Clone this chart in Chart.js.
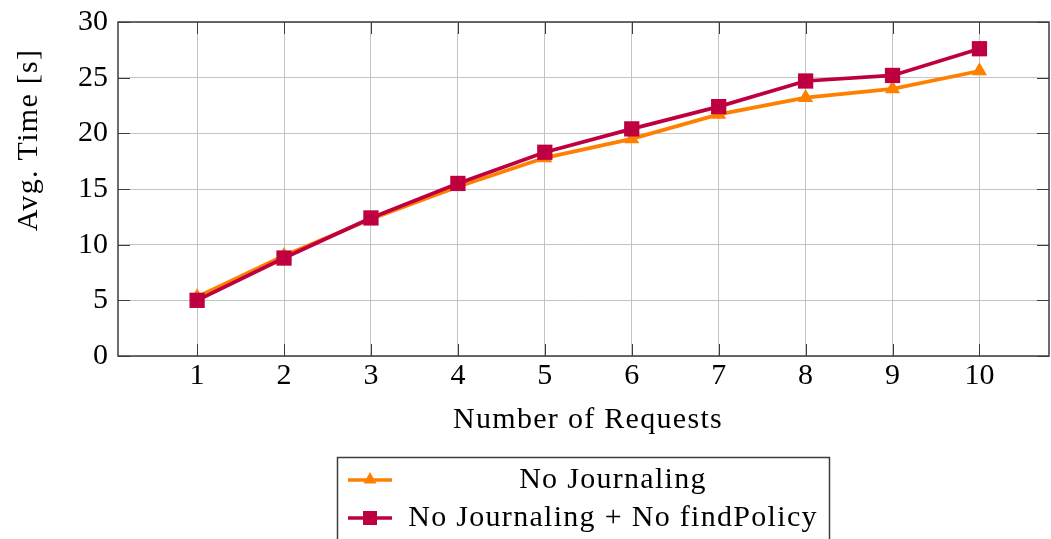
<!DOCTYPE html>
<html>
<head>
<meta charset="utf-8">
<script src="https://cdn.jsdelivr.net/npm/chart.js@4/dist/chart.umd.min.js"></script>
<style>
  html, body { margin: 0; padding: 0; background: #fff; }
  #wrap { width: 1051px; height: 539px; position: relative; }
</style>
</head>
<body>
<div id="wrap"><canvas id="c" width="1051" height="539"></canvas></div>
<script>
// Number of requests on the x axis
const requests = [1, 2, 3, 4, 5, 6, 7, 8, 9, 10];
// Average time in seconds per configuration
const noJournaling = [5.3, 9.0, 12.3, 15.2, 17.8, 19.5, 21.7, 23.2, 24.0, 25.6];
const noJournalingNoFindPolicy = [5.0, 8.8, 12.4, 15.5, 18.3, 20.4, 22.4, 24.7, 25.2, 27.6];
const yTicks = [0, 5, 10, 15, 20, 25, 30];

const seriesNames = ['No Journaling', 'No Journaling + No findPolicy'];
const xTitle = 'Number of Requests';
const yTitle = 'Avg. Time [s]';

const ORANGE = '#ff8000';
const PURPLE = '#bf0040';
const AXIS = '#3c3c3c';
const GRID = '#c4c4c4';
const FONT = '"Liberation Serif", "Times New Roman", serif';

// Box outline, inward tick marks on all four sides, axis titles and legend
const decor = {
  id: 'decor',
  afterDraw(chart) {
    const { ctx, chartArea: a, scales } = chart;
    ctx.save();
    ctx.strokeStyle = AXIS;
    ctx.lineWidth = 1;
    const L = 12;
    ctx.beginPath();
    requests.forEach(v => {
      const x = Math.round(scales.x.getPixelForValue(v)) + 0.5;
      ctx.moveTo(x, a.bottom); ctx.lineTo(x, a.bottom - L);
      ctx.moveTo(x, a.top); ctx.lineTo(x, a.top + L);
    });
    yTicks.forEach(v => {
      const y = Math.round(scales.y.getPixelForValue(v)) + 0.5;
      ctx.moveTo(a.left, y); ctx.lineTo(a.left + L, y);
      ctx.moveTo(a.right, y); ctx.lineTo(a.right - L, y);
    });
    ctx.stroke();
    ctx.lineWidth = 1.5;
    ctx.strokeRect(a.left, a.top, a.right - a.left, a.bottom - a.top);

    // axis titles
    ctx.fillStyle = '#000';
    ctx.font = '30px ' + FONT;
    ctx.letterSpacing = '1.3px';
    ctx.textAlign = 'center';
    ctx.textBaseline = 'middle';
    ctx.fillText(xTitle, 588, 420);
    ctx.save();
    ctx.translate(29, 140);
    ctx.rotate(-Math.PI / 2);
    ctx.fillText(yTitle, 0, 0);
    ctx.restore();

    // legend
    ctx.lineWidth = 1.5;
    ctx.strokeStyle = AXIS;
    ctx.strokeRect(337.5, 457.5, 492, 120);
    const rows = [480, 518];
    const colors = [ORANGE, PURPLE];
    rows.forEach((y, i) => {
      ctx.strokeStyle = colors[i];
      ctx.fillStyle = colors[i];
      ctx.lineWidth = 3.6;
      ctx.beginPath();
      ctx.moveTo(348, y); ctx.lineTo(392, y);
      ctx.stroke();
      ctx.beginPath();
      if (i === 0) {
        ctx.moveTo(370, y - 8); ctx.lineTo(376.5, y + 3.5); ctx.lineTo(363.5, y + 3.5);
        ctx.closePath();
      } else {
        ctx.rect(363, y - 7, 14, 14);
      }
      ctx.fill();
      ctx.fillStyle = '#000';
      ctx.fillText(seriesNames[i], 613, y);
    });
    ctx.restore();
  }
};

new Chart(document.getElementById('c'), {
  type: 'line',
  data: {
    datasets: [
      {
        label: seriesNames[1],
        data: requests.map((x, i) => ({ x, y: noJournalingNoFindPolicy[i] })),
        borderColor: PURPLE,
        backgroundColor: PURPLE,
        borderWidth: 3.7,
        pointStyle: 'rect',
        pointRadius: 10.8,
        pointHoverRadius: 10.8,
        pointBorderWidth: 0,
        tension: 0,
        clip: false,
        order: 0
      },
      {
        label: seriesNames[0],
        data: requests.map((x, i) => ({ x, y: noJournaling[i] })),
        borderColor: ORANGE,
        backgroundColor: ORANGE,
        borderWidth: 3.7,
        pointStyle: 'triangle',
        pointRadius: 8.7,
        pointHoverRadius: 8.7,
        pointBorderWidth: 0,
        tension: 0,
        clip: false,
        order: 1
      }
    ]
  },
  options: {
    responsive: false,
    animation: false,
    events: [],
    layout: { autoPadding: false, padding: { top: 22, right: 2, left: 0, bottom: 0 } },
    plugins: { legend: { display: false }, tooltip: { enabled: false } },
    scales: {
      x: {
        type: 'linear',
        min: 0.09,
        max: 10.8,
        afterBuildTicks: s => { s.ticks = requests.map(v => ({ value: v })); },
        afterFit: s => { s.height = 183; s.paddingLeft = 0; s.paddingRight = 0; },
        grid: { color: GRID, lineWidth: 1, drawTicks: false },
        border: { display: false },
        ticks: { color: '#000', font: { family: FONT, size: 30, lineHeight: 1 }, padding: 5, maxRotation: 0, autoSkip: false }
      },
      y: {
        min: 0,
        max: 30,
        afterBuildTicks: s => { s.ticks = yTicks.map(v => ({ value: v })); },
        afterFit: s => { s.width = 118; s.paddingTop = 0; s.paddingBottom = 0; },
        grid: { color: GRID, lineWidth: 1, drawTicks: false },
        border: { display: false },
        ticks: { color: '#000', font: { family: FONT, size: 30, lineHeight: 1 }, padding: 10 }
      }
    }
  },
  plugins: [decor]
});
</script>
</body>
</html>
